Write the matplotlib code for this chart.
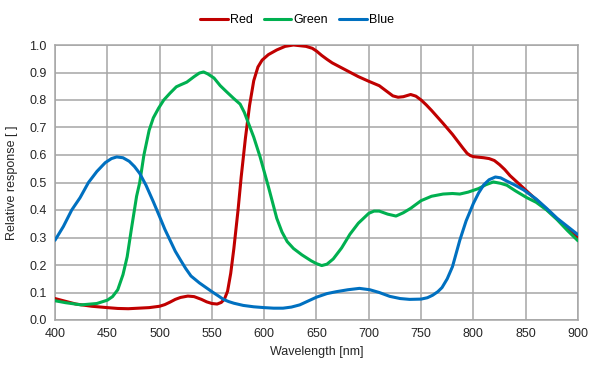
import numpy as np
import matplotlib.pyplot as plt

plt.rcParams['font.family'] = ['Liberation Sans', 'DejaVu Sans']

# wavelength [nm] / relative response
red_wl = [400, 410, 420, 435, 450, 460, 470, 480, 490, 500, 505, 510, 515, 520, 527,
          533, 540, 545, 550, 555, 559, 562, 565, 568, 571, 575, 578, 582, 586, 590,
          594, 598, 604, 612, 620, 628, 640, 646, 650, 655, 660, 665, 670, 680, 690,
          700, 710, 717, 723, 728, 733, 740, 745, 750, 755, 760, 771, 780, 786, 790,
          794, 797, 800, 805, 810, 815, 820, 825, 830, 835, 845, 855, 865, 875, 885,
          893, 900]
red_val = [0.078, 0.068, 0.058, 0.050, 0.045, 0.042, 0.041, 0.043, 0.045, 0.050, 0.056,
           0.065, 0.075, 0.082, 0.087, 0.085, 0.075, 0.066, 0.060, 0.058, 0.064, 0.076,
           0.105, 0.17, 0.26, 0.40, 0.52, 0.66, 0.78, 0.87, 0.92, 0.945, 0.965, 0.982,
           0.995, 1.0, 0.995, 0.988, 0.978, 0.962, 0.948, 0.935, 0.925, 0.905, 0.885,
           0.868, 0.852, 0.832, 0.815, 0.81, 0.812, 0.82, 0.814, 0.80, 0.782, 0.762,
           0.715, 0.675, 0.645, 0.625, 0.606, 0.598, 0.594, 0.592, 0.59, 0.587, 0.58,
           0.565, 0.547, 0.525, 0.49, 0.455, 0.42, 0.385, 0.35, 0.32, 0.30]

green_wl = [400, 410, 425, 440, 450, 455, 460, 465, 469, 473, 478, 481, 485, 490, 494,
            499, 504, 510, 516, 520, 526, 533, 538, 542, 546, 552, 558, 564, 571, 577,
            581, 585, 590, 596, 604, 612, 617, 622, 628, 636, 645, 650, 655, 660, 666,
            674, 682, 690, 700, 705, 710, 718, 726, 733, 740, 750, 760, 771, 780, 787,
            795, 805, 812, 819, 826, 832, 840, 851, 860, 870, 880, 890, 900]
green_val = [0.070, 0.063, 0.055, 0.060, 0.072, 0.085, 0.110, 0.165, 0.23, 0.33, 0.45,
             0.50, 0.60, 0.69, 0.735, 0.77, 0.80, 0.825, 0.848, 0.855, 0.865, 0.885,
             0.898, 0.902, 0.895, 0.88, 0.852, 0.83, 0.805, 0.785, 0.755, 0.715, 0.665,
             0.594, 0.485, 0.37, 0.32, 0.285, 0.26, 0.237, 0.215, 0.205, 0.198, 0.203,
             0.222, 0.262, 0.312, 0.352, 0.388, 0.396, 0.396, 0.385, 0.378, 0.39, 0.406,
             0.434, 0.45, 0.458, 0.46, 0.458, 0.465, 0.478, 0.492, 0.502, 0.497, 0.49,
             0.47, 0.445, 0.428, 0.40, 0.365, 0.325, 0.288]

blue_wl = [400, 408, 416, 424, 432, 440, 448, 454, 459, 465, 471, 476, 481, 487, 494,
           500, 505, 510, 515, 520, 525, 530, 538, 544, 550, 556, 561, 566, 571, 580,
           590, 600, 609, 618, 626, 634, 642, 650, 660, 669, 680, 691, 701, 710, 720,
           730, 739, 750, 756, 761, 766, 770, 775, 780, 787, 793, 800, 805, 810, 815,
           821, 826, 832, 840, 848, 860, 870, 880, 890, 900]
blue_val = [0.29, 0.34, 0.40, 0.445, 0.50, 0.54, 0.572, 0.587, 0.593, 0.59, 0.577,
            0.558, 0.533, 0.49, 0.43, 0.376, 0.33, 0.29, 0.25, 0.218, 0.187, 0.160,
            0.135, 0.119, 0.103, 0.088, 0.075, 0.067, 0.061, 0.053, 0.048, 0.045, 0.043,
            0.043, 0.047, 0.055, 0.069, 0.083, 0.096, 0.103, 0.11, 0.115, 0.11, 0.10,
            0.086, 0.078, 0.075, 0.076, 0.081, 0.09, 0.103, 0.118, 0.15, 0.194, 0.29,
            0.36, 0.424, 0.462, 0.492, 0.51, 0.52, 0.517, 0.505, 0.49, 0.473, 0.44,
            0.406, 0.37, 0.34, 0.31]

GRID = '#A6A6A6'

fig = plt.figure(figsize=(6, 3.79), dpi=100)
ax = fig.add_axes([55 / 600, 1 - 320 / 379, 523 / 600, 275 / 379])

style = dict(lw=2.2, solid_joinstyle='round', solid_capstyle='round')
ax.plot(red_wl, red_val, color='#C00000', label='Red', zorder=3, **style)
ax.plot(green_wl, green_val, color='#00B050', label='Green', zorder=3, **style)
ax.plot(blue_wl, blue_val, color='#0070C0', label='Blue', zorder=4, **style)

ax.set_xlim(400, 900)
ax.set_ylim(0, 1.0)
ax.set_xticks(np.arange(400, 901, 50))
ax.set_yticks(np.arange(0, 1.01, 0.1))
ax.set_yticklabels(['%.1f' % v for v in np.arange(0, 1.01, 0.1)])
ax.grid(color=GRID, lw=1.1)
ax.set_axisbelow(True)
for s in ax.spines.values():
    s.set_color(GRID)
    s.set_linewidth(1.1)
ax.tick_params(length=0, labelsize=9, colors='#262626', pad=6)

ax.set_xlabel('Wavelength [nm]', fontsize=9, color='#262626', labelpad=4)
ax.set_ylabel('Relative response [ ]', fontsize=9, color='#262626', labelpad=8)

fig.legend(loc='center', bbox_to_anchor=(297 / 600, 1 - 20 / 379), ncol=3,
           frameon=False, fontsize=9, handlelength=2.2, handletextpad=0.15,
           columnspacing=0.9)

fig.savefig('out.png', dpi=100)
